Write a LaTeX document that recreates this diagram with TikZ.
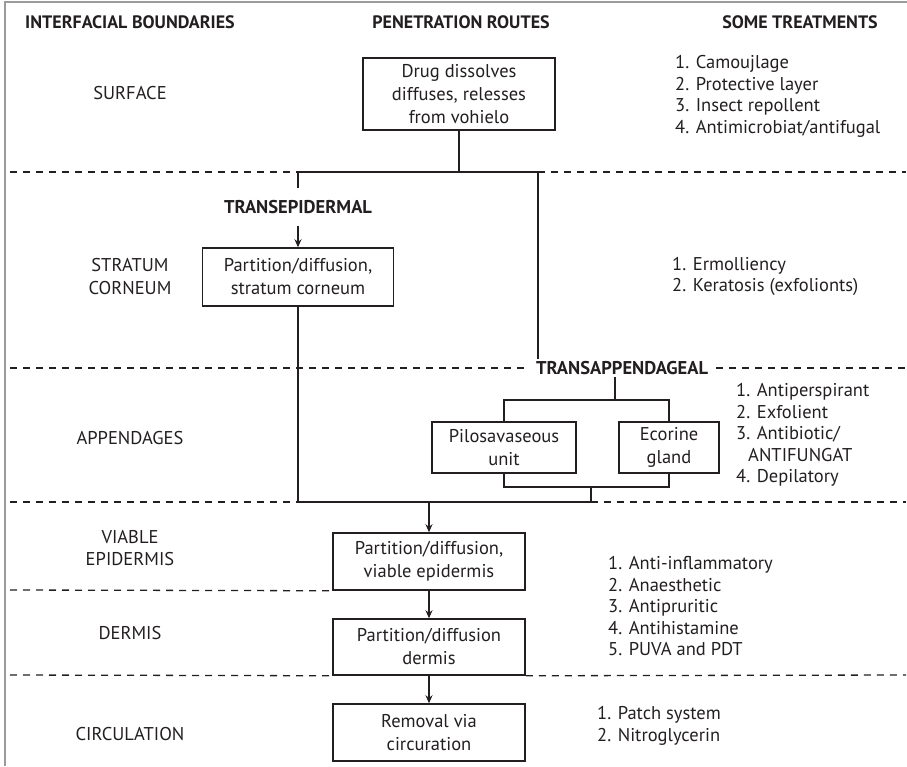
\documentclass[tikz,border=0pt]{standalone}
\usepackage{fontspec}
\setmainfont{PT Sans}
\usetikzlibrary{positioning}
\usetikzlibrary{arrows.meta}
\definecolor{ink}{RGB}{35,31,32}
\definecolor{framegray}{RGB}{155,155,155}
\tikzset{
        treetext/.style={align=center,inner sep=0pt,text=ink},
        % Column headers
        node_head/.style={treetext, font=\fontsize{18}{21}\selectfont\bfseries},
        % Layer names
        node_layer/.style={treetext, font=\fontsize{18.5}{22.5}\selectfont},
        % Route boxes
        node_route/.style={treetext, rectangle, draw=ink, line width=1.5pt, font=\fontsize{18.5}{23}\selectfont},
        % Route names
        node_tag/.style={treetext, font=\fontsize{18.5}{21}\selectfont\bfseries},
        % Treatment lists
        node_treat/.style={align=left, inner sep=0pt, anchor=west, text=ink, font=\fontsize{18.5}{21.5}\selectfont},
        % Layer boundaries
        line_layer/.style={draw=ink, line width=1.3pt, dash pattern=on 7pt off 6pt},
        % Route connectors
        line_route/.style={draw=ink, line width=1.5pt}
}

\begin{document}
\begin{tikzpicture}[
            x=1pt, y=-1pt,
            >={Stealth[length=8pt,width=7pt]}
        ]
    \useasboundingbox (0,0) rectangle (907,766);
    \draw[framegray, line width=2pt] (5,766) -- (5,2) -- (907,2);

    \node[node_head] (head_bound) at (130,22) {INTERFACIAL BOUNDARIES};
    \node[node_head] (head_route) at (461,22) {PENETRATION ROUTES};
    \node[node_head] (head_treat) at (800,22) {SOME TREATMENTS};

    \node[node_layer] (lay_surface) at (130,93) {SURFACE};
    \node[node_layer] (lay_stratum) at (130,276.5) {STRATUM\\CORNEUM};
    \node[node_layer] (lay_append) at (130,438) {APPENDAGES};
    \node[node_layer] (lay_viable) at (130,548) {VIABLE\\EPIDERMIS};
    \node[node_layer] (lay_dermis) at (130,633) {DERMIS};
    \node[node_layer] (lay_circ) at (130,734) {CIRCULATION};

    \node[node_route, minimum width=192pt, minimum height=72pt] (surface) at (459,94) {Drug dissolves\\diffuses, relesses\\from vohielo};
    \node[node_tag, outer ysep=12pt] (tag_epi) at (298,207) {TRANSEPIDERMAL};
    \node[node_route, minimum width=191pt, minimum height=58pt] (stratum) at (298,277) {Partition/diffusion,\\stratum corneum};
    \node[node_tag, inner xsep=8pt, inner ysep=2pt] (tag_app) at (622,368) {TRANSAPPENDAGEAL};
    \node[node_route, minimum width=144pt, minimum height=51pt] (pilo) at (504,447.5) {Pilosavaseous\\unit};
    \node[node_route, minimum width=100pt, minimum height=51pt] (ecorine) at (669,447.5) {Ecorine\\gland};
    \node[node_route, minimum width=192pt, minimum height=57pt] (viable) at (429,561.5) {Partition/diffusion,\\viable epidermis};
    \node[node_route, minimum width=192pt, minimum height=56pt] (dermis) at (429,647) {Partition/diffusion\\dermis};
    \node[node_route, minimum width=192pt, minimum height=57pt] (circ) at (429,732.5) {Removal via\\circuration};

    \node[node_treat] (treat_surface) at (675,96.5) {1. Camoujlage\\2. Protective layer\\3. Insect repollent\\4. Antimicrobiat/antifugal};
    \node[node_treat] (treat_stratum) at (672,276.5) {1. Ermolliency\\2. Keratosis (exfolionts)};
    \node[node_treat] (treat_append) at (736,435) {1. Antiperspirant\\2. Exfolient\\3. Antibiotic/\\\hspace*{12pt}ANTIFUNGAT\\4. Depilatory};
    \node[node_treat] (treat_dermis) at (608,606.5) {1. Anti-inflammatory\\2. Anaesthetic\\3. Antipruritic\\4. Antihistamine\\5. PUVA and PDT};
    \node[node_treat] (treat_circ) at (597,726) {1. Patch system\\2. Nitroglycerin};

    \coordinate (j_epi) at (298,172);
    \coordinate (j_top) at (459,172);
    \coordinate (j_app) at (538,172);
    \coordinate (j_split) at (615,400);
    \coordinate (j_merge) at (591,487);
    \coordinate (j_base) at (591,502);

    \draw[line_route] (surface) -- (j_top);
    \draw[line_route] (j_epi) -- (j_app);
    \draw[line_route] (j_epi) -- (tag_epi);
    \draw[line_route, ->] (tag_epi) -- (stratum);
    \draw[line_route] (j_app) -- (j_app |- tag_app.north);
    \draw[line_route] (j_split |- tag_app.south) -- (j_split);
    \draw[line_route] (pilo.north) |- (j_split) -| (ecorine.north);
    \draw[line_route] (pilo.south) |- (j_merge) -| (ecorine.south);
    \draw[line_route] (j_merge) -- (j_base);
    \draw[line_route] (stratum.south) |- (j_base);
    \draw[line_route, ->] (viable.north |- j_base) -- (viable);
    \draw[line_route, ->] (viable) -- (dermis);
    \draw[line_route, ->] (dermis) -- (circ);

    \draw[line_layer] (10,172) -- (j_epi) (j_app) -- (906,172);
    \draw[line_layer] (10,368) -- (tag_app.west) (tag_app.east) -- (906,368);
    \draw[line_layer] (10,502) -- (stratum.south |- j_base) (j_base) -- (906,502);
    \draw[line_layer] (10,590) -- (viable.south west);
    \draw[line_layer] (10,675) -- (dermis.south west) (dermis.south east) -- (906,675);
\end{tikzpicture}
\end{document}
